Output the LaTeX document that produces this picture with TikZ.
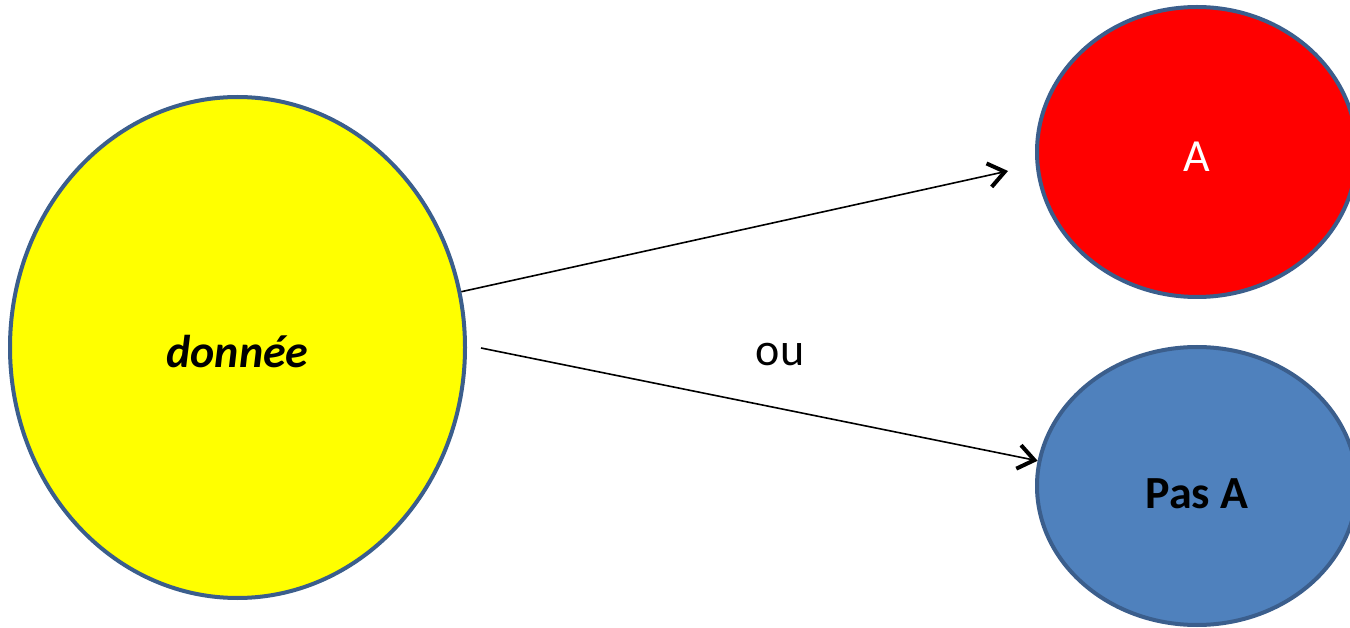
\documentclass[tikz,border=0pt]{standalone}
\usepackage{fontspec}
\setmainfont{Carlito}
\usetikzlibrary{shapes.geometric,arrows.meta}
\definecolor{edgeblue}{HTML}{3B5E8C}
\definecolor{fillblue}{HTML}{4F81BD}
\definecolor{fillyellow}{HTML}{FFFF00}
\definecolor{fillred}{HTML}{FF0000}
\tikzset{
  blob/.style={ellipse, draw=edgeblue, line width=4pt, inner sep=0pt,
    font=\fontsize{46}{54}\selectfont},
  arr/.style={line width=1.6pt, -{Straight Barb[length=16pt,width=24pt,line width=4pt]}}
}
\begin{document}
\begin{tikzpicture}[x=1pt,y=-1pt]
\useasboundingbox (0,0) rectangle (1350,628);
\clip (0,0) rectangle (1350,628);
\node[blob, fill=fillyellow, minimum width=455pt, minimum height=501pt,
  text height=46pt, text depth=5pt] (d) at (237.5,347.5) {\bfseries\itshape donnée};
\node[blob, fill=fillred, text=white, minimum width=320pt, minimum height=290pt,
  text height=45pt, text depth=6pt] (a) at (1197,152) {A};
\node[blob, fill=fillblue, minimum width=320pt, minimum height=278pt,
  text height=48pt, text depth=3pt] (p) at (1197,486) {\bfseries Pas A};
\coordinate (e1) at (1008,171);
\coordinate (s2) at (481,348);
\draw[arr] (d.14) -- (e1);
\draw[arr] (s2) -- (p.171);
\node[font=\fontsize{46}{54}\selectfont] (ou) at (780,355) {ou};
\end{tikzpicture}
\end{document}
